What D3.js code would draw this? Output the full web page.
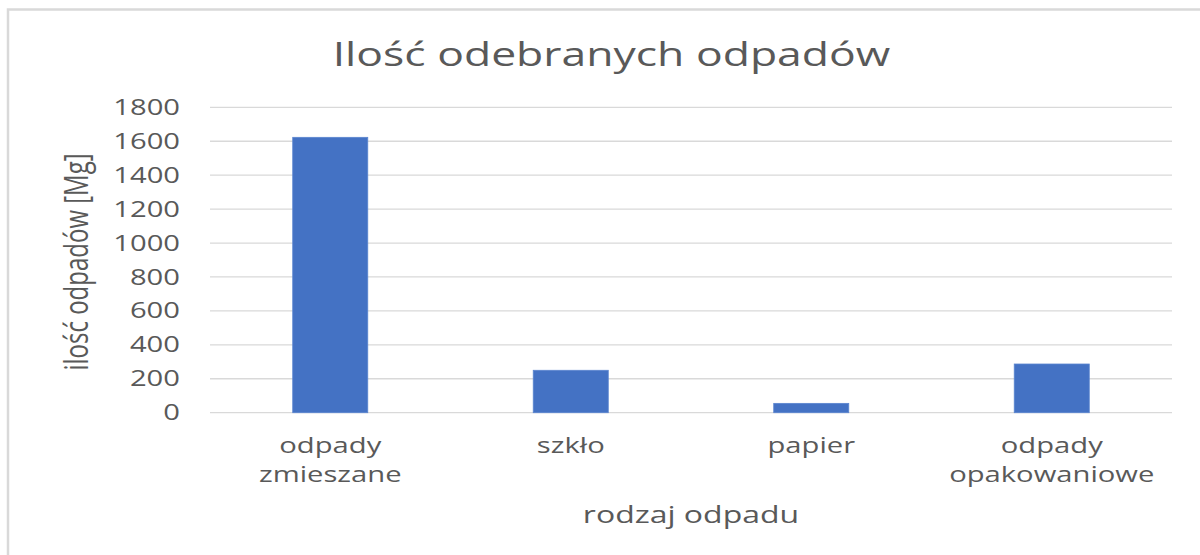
<!DOCTYPE html>
<html>
<head>
<meta charset="utf-8">
<script src="https://cdn.jsdelivr.net/npm/d3@7"></script>
<style>
    html, body { margin: 0; padding: 0; background: #fff; }
    svg { display: block; }
    text { font-family: "Open Sans", "Noto Sans", sans-serif; fill: #595959; }
</style>
</head>
<body>
<svg id="svg"></svg>
<script>
// data
const categories = [["odpady", "zmieszane"], ["szkło"], ["papier"], ["odpady", "opakowaniowe"]];
const values = [1623, 250, 55, 287];
const yTicks = [0, 200, 400, 600, 800, 1000, 1200, 1400, 1600, 1800];

const width = 1200;
const height = 555;
const margin = { top: 107.3, right: 28, bottom: 142.3, left: 210 };
const chartWidth = width - margin.left - margin.right;
const chartHeight = height - margin.top - margin.bottom;

// the reference is stretched sideways, so every text gets widened by this much
const stretch = 1.39;

let svg = d3.select("#svg").attr("width", width).attr("height", height);

function fitText(sel, factor) {
    sel.each(function () {
        let w = this.getComputedTextLength();
        d3.select(this).attr("textLength", w * factor).attr("lengthAdjust", "spacingAndGlyphs");
    });
}

// outer frame (only top and left edges are visible)
svg.append("rect")
    .attr("x", 8).attr("y", 9.5)
    .attr("width", 1400).attr("height", 800)
    .attr("fill", "none")
    .attr("stroke", "#d9d9d9")
    .attr("stroke-width", 2.5);

let chart = svg.append("g")
    .attr("transform", "translate(" + margin.left + "," + margin.top + ")");

let xScale = d3.scaleBand()
    .domain(categories.map(c => c.join(" ")))
    .range([0, chartWidth])
    .paddingInner(0.688)
    .paddingOuter(0.344);

let yScale = d3.scaleLinear()
    .domain([0, 1800])
    .range([chartHeight, 0]);

// gridlines
chart.append("g")
    .selectAll("line")
    .data(yTicks)
    .join("line")
    .attr("x1", 0)
    .attr("x2", chartWidth)
    .attr("y1", d => yScale(d))
    .attr("y2", d => yScale(d))
    .attr("stroke", "#d9d9d9")
    .attr("stroke-width", 1.3);

// bars
chart.append("g")
    .selectAll("rect")
    .data(values)
    .join("rect")
    .attr("x", (d, i) => xScale(categories[i].join(" ")))
    .attr("y", d => yScale(d))
    .attr("width", xScale.bandwidth())
    .attr("height", d => yScale(0) - yScale(d))
    .attr("fill", "#4472c4")
    .attr("stroke", "#5b85d0")
    .attr("stroke-width", 0.8);

// y tick labels
let yLabels = chart.append("g")
    .selectAll("text")
    .data(yTicks)
    .join("text")
    .attr("x", -30)
    .attr("y", d => yScale(d) + 7.6)
    .attr("text-anchor", "end")
    .style("font-size", "21px")
    .text(d => d);
fitText(yLabels, stretch);

// category labels
let xLabels = chart.append("g")
    .selectAll("text")
    .data(categories)
    .join("text")
    .attr("text-anchor", "middle")
    .attr("transform", c => "translate(" + (xScale(c.join(" ")) + xScale.bandwidth() / 2) + "," + (chartHeight + 40.5) + ")")
    .style("font-size", "21px");
let tspans = xLabels.selectAll("tspan")
    .data(c => c)
    .join("tspan")
    .attr("x", 0)
    .attr("y", (d, i) => i * 29)
    .text(d => d);
fitText(tspans, stretch);

// axis titles
let xTitle = svg.append("text")
    .attr("x", 691)
    .attr("y", 523)
    .attr("text-anchor", "middle")
    .style("font-size", "23px")
    .text("rodzaj odpadu");
fitText(xTitle, stretch);

// rotated title: the sideways stretch makes it thicker, not longer
svg.append("text")
    .attr("transform", "translate(88,262) scale(" + stretch + ",1) rotate(-90)")
    .attr("text-anchor", "middle")
    .style("font-size", "24px")
    .text("ilość odpadów [Mg]");

let title = svg.append("text")
    .attr("x", 611.5)
    .attr("y", 66)
    .attr("text-anchor", "middle")
    .style("font-size", "32px")
    .text("Ilość odebranych odpadów");
fitText(title, stretch);
</script>
</body>
</html>
